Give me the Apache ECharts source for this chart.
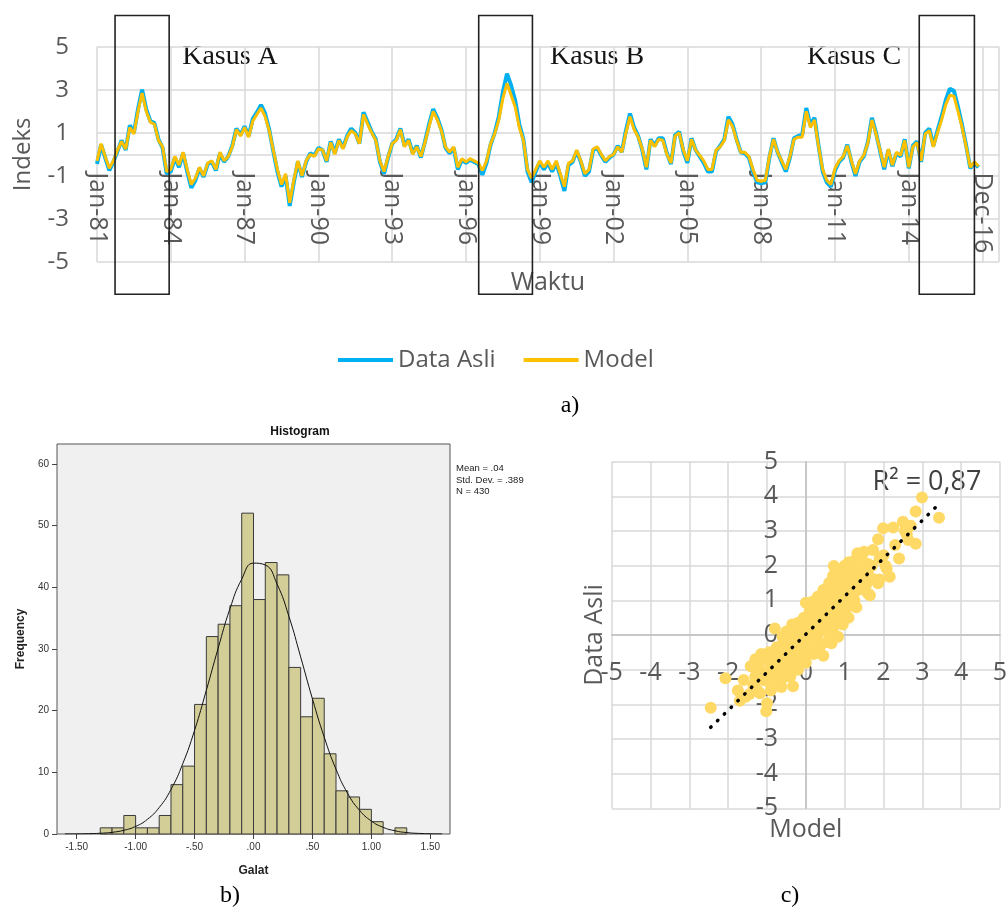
<!DOCTYPE html>
<html>
<head>
<meta charset="utf-8">
<script src="https://cdn.jsdelivr.net/npm/echarts@6/dist/echarts.min.js"></script>
<style>
html,body{margin:0;padding:0;background:#fff}
#chart{width:1008px;height:915px}
</style>
</head>
<body>
<div id="chart"></div>
<script>
// a) indeks bulanan Jan-81 s/d Dec-16, dibaca tiap 2 bulan
const stepBulan = 2;
const model = [
  -0.3, 0.5, -0.1, -0.65, -0.3, 0.2, 0.6, 0.25, 1.25, 0.95, 2.0, 2.85, 2.0, 1.5, 1.4, 0.65, 0.35, -0.8,
  -0.7, -0.1, -0.5, 0.1, -0.7, -1.4, -1.1, -0.6, -1.0, -0.4, -0.3, -0.7, 0.1, -0.3, -0.1, 0.35, 1.15, 0.85,
  1.25, 0.8, 1.55, 1.85, 2.15, 1.75, 1.1, 0.2, -0.7, -1.4, -0.9, -2.25, -1.2, -0.3, -1.0, -0.3, 0.0, -0.1,
  0.25, 0.2, -0.3, 0.55, 0.0, 0.65, 0.25, 0.8, 1.1, 0.95, 0.5, 1.85, 1.4, 1.0, 0.65, -0.3, -0.8, -0.1,
  0.5, 0.65, 1.15, 0.35, 0.65, 0.0, 0.35, -0.1, 0.55, 1.3, 2.0, 1.6, 1.1, 0.35, 0.1, 0.35, -0.6, -0.2,
  -0.35, -0.2, -0.3, -0.4, -0.75, -0.3, 0.5, 0.95, 1.6, 2.6, 3.3, 2.75, 2.2, 1.25, 0.65, -0.7, -1.1, -0.7,
  -0.3, -0.6, -0.3, -0.7, -0.3, -0.9, -1.5, -0.4, -0.3, 0.2, -0.3, -0.9, -0.7, 0.25, 0.35, 0.0, -0.3, -0.1,
  0.0, 0.35, 0.1, 1.0, 1.75, 1.15, 0.8, 0.25, -0.6, 0.65, 0.35, 0.7, 0.65, 0.0, -0.4, 0.85, 1.0, 0.2,
  -0.3, 0.7, 0.2, -0.05, -0.3, -0.7, -0.7, 0.2, 0.35, 0.65, 1.6, 1.3, 0.65, 0.1, 0.1, -0.1, -0.7, -1.2,
  -1.25, -1.2, -0.1, 0.7, 0.1, -0.3, -0.7, -0.1, 0.7, 0.8, 0.8, 2.0, 1.25, 1.6, 0.35, -0.7, -1.2, -1.4,
  -0.65, -0.3, -0.1, 0.4, -0.3, -0.9, -0.3, -0.05, 0.5, 1.6, 0.95, 0.2, -0.6, 0.25, -0.5, 0.1, -0.05, 0.65,
  -0.6, 0.35, 0.55, -0.3, 0.95, 1.1, 0.35, 1.0, 1.6, 2.3, 2.75, 2.7, 2.0, 1.25, 0.35, -0.6, -0.35, -0.55
];
const dataAsli = [
  -0.45, 0.45, -0.15, -0.75, -0.35, 0.15, 0.65, 0.2, 1.35, 1.0, 2.1, 3.0, 2.1, 1.55, 1.45, 0.7, 0.3, -0.9,
  -0.8, -0.15, -0.6, 0.05, -0.8, -1.55, -1.2, -0.65, -1.05, -0.45, -0.35, -0.75, 0.05, -0.35, -0.1, 0.4, 1.2, 0.9,
  1.3, 0.85, 1.65, 1.95, 2.3, 1.9, 1.15, 0.15, -0.8, -1.5, -1.0, -2.4, -1.3, -0.35, -1.05, -0.35, 0.05, -0.05,
  0.3, 0.2, -0.35, 0.6, 0.05, 0.7, 0.3, 0.85, 1.2, 1.0, 0.5, 1.95, 1.5, 1.05, 0.7, -0.35, -0.9, -0.15,
  0.5, 0.7, 1.2, 0.4, 0.7, 0.05, 0.4, -0.15, 0.6, 1.4, 2.1, 1.7, 1.15, 0.3, 0.05, 0.3, -0.7, -0.25,
  -0.4, -0.25, -0.35, -0.45, -0.95, -0.4, 0.45, 1.0, 1.75, 2.9, 3.75, 3.2, 2.5, 1.4, 0.7, -0.8, -1.3, -0.8,
  -0.35, -0.7, -0.4, -0.8, -0.4, -1.0, -1.7, -0.5, -0.35, 0.15, -0.35, -1.0, -0.8, 0.2, 0.3, -0.05, -0.35, -0.15,
  0.0, 0.4, 0.1, 1.1, 1.9, 1.25, 0.85, 0.2, -0.7, 0.7, 0.4, 0.75, 0.75, 0.05, -0.45, 0.9, 1.05, 0.15,
  -0.4, 0.75, 0.2, -0.1, -0.4, -0.8, -0.8, 0.15, 0.4, 0.7, 1.75, 1.4, 0.7, 0.1, 0.05, -0.15, -0.8, -1.3,
  -1.35, -1.3, -0.15, 0.75, 0.1, -0.35, -0.8, -0.15, 0.75, 0.85, 0.9, 2.15, 1.35, 1.7, 0.4, -0.8, -1.3, -1.5,
  -0.75, -0.35, -0.15, 0.45, -0.35, -1.0, -0.35, -0.1, 0.55, 1.7, 1.0, 0.15, -0.7, 0.2, -0.55, 0.05, -0.1, 0.7,
  -0.65, 0.4, 0.6, -0.35, 1.0, 1.2, 0.4, 1.1, 1.75, 2.5, 3.05, 2.95, 2.2, 1.35, 0.4, -0.65, -0.4, -0.6
];
const labelWaktu = ['Jan-81','Jan-84','Jan-87','Jan-90','Jan-93','Jan-96','Jan-99','Jan-02','Jan-05','Jan-08','Jan-11','Jan-14','Dec-16'];
// kotak kasus (bulan ke-)
const kasusNama = ['Kasus A', 'Kasus B', 'Kasus C'];
const kasusDari = [8.8, 186.2, 401.1];
const kasusSampai = [35.2, 212.4, 428];

// b) histogram galat
const galatBawah = [-1.3,-1.2,-1.1,-1.0,-0.9,-0.8,-0.7,-0.6,-0.5,-0.4,-0.3,-0.2,-0.1,0.0,0.1,0.2,0.3,0.4,0.5,0.6,0.7,0.8,0.9,1.0,1.1,1.2];
const frekuensi = [1,1,3,1,1,3,8,11,21,32,34,37,52,38,44,42,27,19,22,13,7,6,4,2,0,1];
const lebarBin = 0.1;
const kurvaX = [-1.6,-1.5,-1.4,-1.3,-1.2,-1.1,-1.0,-0.9,-0.8,-0.7,-0.6,-0.5,-0.4,-0.3,-0.2,-0.1,0.0,0.1,0.2,0.3,0.4,0.5,0.6,0.7,0.8,0.9,1.0,1.1,1.2,1.3,1.4,1.5,1.6];
const kurvaY = [0.01,0.02,0.05,0.12,0.27,0.6,1.23,2.38,4.29,7.22,11.4,16.8,23.3,30.1,36.5,41.3,43.9,43.6,40.5,35.3,28.7,21.9,15.7,10.5,6.54,3.83,2.1,1.08,0.52,0.23,0.1,0.04,0.01];

// c) sebaran model vs data asli
const sebaranModel = [
  -2.45,-2.07,-1.75,-1.55,-1.42,-1.35,-1.3,-1.25,-1.2,-1.18,-1.1,-1.05,-1.02,-1.0,-1.0,-0.95,-0.92,-0.9,-0.85,-0.82,
  -0.8,-0.75,-0.72,-0.7,-0.68,-0.65,-0.63,-0.6,-0.58,-0.55,-0.52,-0.5,-0.48,-0.45,-0.42,-0.4,-0.38,-0.35,-0.33,-0.3,
  -0.28,-0.25,-0.22,-0.2,-0.18,-0.15,-0.12,-0.1,-0.08,-0.05,-0.02,0.0,0.0,0.03,0.05,0.08,0.1,0.12,0.15,0.18,
  0.2,0.22,0.25,0.28,0.3,0.32,0.35,0.38,0.4,0.42,0.45,0.45,0.48,0.5,0.52,0.55,0.58,0.6,0.62,0.65,
  0.66,0.68,0.7,0.72,0.72,0.75,0.78,0.8,0.83,0.83,0.85,0.88,0.9,0.92,0.95,0.98,1.0,1.02,1.05,1.08,
  1.1,1.12,1.15,1.18,1.2,1.22,1.25,1.28,1.3,1.33,1.35,1.4,1.43,1.45,1.5,1.55,1.6,1.65,1.7,1.73,
  1.78,1.86,1.86,1.9,1.99,2.05,2.08,2.16,2.25,2.4,2.5,2.55,2.64,2.7,2.83,2.83,2.99,3.43,
  -1.15,-0.8,-1.3,-0.6,-0.5,-0.35,-0.2,-0.05,0.1,0.15,0.3,0.45,0.6,0.7,0.9,1.0,1.1,1.3,1.5,1.6,
  -0.9,-0.6,-0.4,-0.2,0.0,0.2,0.35,0.55,0.7,0.95,1.1,1.3,1.6,1.9,2.0,2.3,2.6,-1.6,-1.45,-1.7
];
const sebaranAsli = [
  -2.1,-1.25,-1.6,-1.78,-0.9,-1.45,-1.2,-1.6,-0.95,-1.68,-1.3,-0.7,-2.2,-1.97,-1.1,-0.5,-1.4,-0.85,-1.2,-0.6,
  -0.95,-0.35,-1.3,-0.75,-1.05,-0.45,-1.5,-0.9,-0.2,-0.65,-1.1,-0.4,-0.8,-0.1,-0.55,-0.95,-0.3,-0.7,-1.48,-0.15,
  -0.5,-0.85,0.05,-0.35,-0.6,-0.1,-0.45,0.2,-0.25,-0.7,0.05,0.93,-0.3,0.3,-0.05,-0.5,0.15,0.45,-0.2,0.1,
  0.5,-0.1,0.25,0.7,0.0,0.4,0.85,0.15,0.55,-0.25,-0.6,0.3,0.75,1.05,0.45,0.1,0.65,1.2,0.35,0.85,
  -0.24,0.55,1.0,1.99,0.25,0.75,1.3,0.5,-0.05,1.0,1.5,0.7,1.15,0.4,1.6,0.95,1.3,0.65,1.59,1.1,
  1.8,0.85,1.4,1.2,1.65,1.92,1.0,1.5,1.75,2.36,1.3,1.6,1.35,1.9,2.1,1.45,1.75,1.15,2.0,2.45,
  1.6,1.49,2.76,2.2,3.08,2.0,1.92,1.68,3.1,2.21,3.27,3.0,2.74,3.15,3.56,2.63,3.97,3.38,
  -0.55,0.19,-0.7,-0.05,0.1,0.3,0.35,0.5,0.7,0.95,1.1,1.3,1.5,1.7,1.85,2.0,2.1,2.2,2.4,2.05,
  -1.6,-1.25,-1.2,-1.0,-0.8,-0.55,-0.35,-0.2,0.05,0.3,0.5,0.8,1.2,1.6,2.3,2.6,2.9,-1.3,-1.7,-1.9
];

let myChart = echarts.init(document.getElementById('chart'));

const excelFont = 'Open Sans';
const abu = '#595959';

// garis tren (kuadrat terkecil dari sebaran)
let n = sebaranModel.length, sx = 0, sy = 0, sxx = 0, sxy = 0;
for (let i = 0; i < n; i++) {
  sx += sebaranModel[i]; sy += sebaranAsli[i];
  sxx += sebaranModel[i] * sebaranModel[i]; sxy += sebaranModel[i] * sebaranAsli[i];
}
let slope = (n * sxy - sx * sy) / (n * sxx - sx * sx);
let intercept = (sy - slope * sx) / n;
let xMin = Math.min(...sebaranModel), xMax = Math.max(...sebaranModel);

let option = {
  animation: false,
  backgroundColor: '#fff',
  textStyle: { fontFamily: excelFont },
  legend: {
    data: ['Data Asli', 'Model'],
    left: 333, top: 343,
    icon: 'rect', itemWidth: 55, itemHeight: 4, itemGap: 28,
    textStyle: { fontSize: 24, color: abu, fontFamily: excelFont }
  },
  grid: [
    { left: 97, top: 46.7, width: 902, height: 215.3, outerBoundsMode: 'none' },
    // histogram: 0..60 dipetakan ke 834..463.8 px, bingkai SPSS digambar terpisah
    { left: 57, top: 463.8, width: 393, height: 370.2, outerBoundsMode: 'none' },
    { left: 611.7, top: 461.7, width: 388.3, height: 346.6, outerBoundsMode: 'none' }
  ],
  xAxis: [
    {
      // sumbu di y = 0 (154 px), digeser naik dari dasar grid
      gridIndex: 0, type: 'value', min: 0, max: 440, interval: 36, offset: -107.6,
      name: 'Waktu', nameLocation: 'middle', nameGap: 116,
      nameTextStyle: { fontSize: 25, color: abu },
      axisLine: { onZero: false, lineStyle: { color: '#d9d9d9', width: 1.5 } },
      axisTick: { show: false },
      axisLabel: {
        rotate: -90, margin: 18, fontSize: 25, color: abu, showMaxLabel: false,
        formatter: v => (v % 36 === 0 && v / 36 < labelWaktu.length) ? labelWaktu[v / 36] : ''
      },
      splitLine: { show: true, lineStyle: { color: '#d9d9d9', width: 1.5 } }
    },
    {
      gridIndex: 1, type: 'value', min: -1.667, max: 1.667,
      name: 'Galat', nameLocation: 'middle', nameGap: 31,
      nameTextStyle: { fontSize: 12, fontWeight: 'bold', color: '#222', fontFamily: 'Liberation Sans' },
      axisLine: { show: false, onZero: false },
      axisTick: { show: true, length: 5, lineStyle: { color: '#444' }, customValues: [-1.5, -1, -0.5, 0, 0.5, 1, 1.5] },
      axisLabel: {
        margin: 8, fontSize: 10, color: '#333', fontFamily: 'Liberation Sans',
        customValues: [-1.5, -1, -0.5, 0, 0.5, 1, 1.5],
        formatter: v => v.toFixed(2).replace(/^(-?)0\./, '$1.')
      },
      splitLine: { show: false }
    },
    {
      gridIndex: 2, type: 'value', min: -5, max: 5, interval: 1, offset: -173.3,
      name: 'Model', nameLocation: 'middle', nameGap: 182,
      nameTextStyle: { fontSize: 25, color: abu },
      axisLine: { onZero: false, lineStyle: { color: '#bfbfbf', width: 1.5 } },
      axisTick: { show: false },
      axisLabel: { margin: 25, fontSize: 25, color: abu },
      splitLine: { show: true, lineStyle: { color: '#d9d9d9', width: 1.5 } }
    }
  ],
  yAxis: [
    {
      gridIndex: 0, type: 'value', min: -5, max: 5, interval: 2,
      name: 'Indeks', nameLocation: 'middle', nameGap: 62,
      nameTextStyle: { fontSize: 24, color: abu },
      axisLine: { show: false, onZero: false }, axisTick: { show: false },
      axisLabel: { margin: 28, fontSize: 24, color: abu },
      splitLine: { show: true, lineStyle: { color: '#d9d9d9', width: 1.5 } }
    },
    {
      gridIndex: 1, type: 'value', min: 0, max: 60, interval: 10,
      name: 'Frequency', nameLocation: 'middle', nameGap: 30,
      nameTextStyle: { fontSize: 12, fontWeight: 'bold', color: '#222', fontFamily: 'Liberation Sans', padding: [0, 0, 0, 20] },
      axisLine: { show: false, onZero: false },
      axisTick: { show: true, length: 5, lineStyle: { color: '#444' } },
      axisLabel: { margin: 8, fontSize: 10, color: '#333', fontFamily: 'Liberation Sans' },
      splitLine: { show: false }
    },
    {
      gridIndex: 2, type: 'value', min: -5, max: 5, interval: 1, offset: -194.3,
      name: 'Data Asli', nameLocation: 'middle', nameGap: 199,
      nameTextStyle: { fontSize: 25, color: abu },
      axisLine: { onZero: false, lineStyle: { color: '#bfbfbf', width: 1.5 } },
      axisTick: { show: false },
      axisLabel: { margin: 28, fontSize: 25, color: abu },
      splitLine: { show: true, lineStyle: { color: '#d9d9d9', width: 1.5 } }
    }
  ],
  series: [
    {
      name: 'Data Asli', type: 'line', xAxisIndex: 0, yAxisIndex: 0,
      showSymbol: false, color: '#00b0f0',
      lineStyle: { width: 4, color: '#00b0f0' },
      data: dataAsli.map((v, i) => [i * stepBulan, v])
    },
    {
      name: 'Model', type: 'line', xAxisIndex: 0, yAxisIndex: 0,
      showSymbol: false, color: '#ffc000',
      lineStyle: { width: 3, color: '#ffc000' },
      data: model.map((v, i) => [i * stepBulan, v])
    },
    {
      // kotak kasus A, B, C
      type: 'custom', xAxisIndex: 0, yAxisIndex: 0, clip: false, silent: true, z: 10,
      encode: { x: [0, 1], y: [2, 3] },
      data: kasusDari.map((d, i) => [d, kasusSampai[i], 6.45, -6.5]),
      renderItem: (params, api) => {
        let p0 = api.coord([api.value(0), api.value(2)]);
        let p1 = api.coord([api.value(1), api.value(3)]);
        return {
          type: 'rect',
          shape: { x: p0[0], y: p0[1], width: p1[0] - p0[0], height: p1[1] - p0[1] },
          style: { fill: 'none', stroke: '#222', lineWidth: 1.6 }
        };
      }
    },
    {
      type: 'custom', xAxisIndex: 1, yAxisIndex: 1, silent: true,
      encode: { x: [0, 1], y: 2 },
      data: galatBawah.map((b, i) => [b, b + lebarBin, frekuensi[i]]),
      renderItem: (params, api) => {
        if (api.value(2) <= 0) return null;
        let p0 = api.coord([api.value(0), api.value(2)]);
        let p1 = api.coord([api.value(1), 0]);
        return {
          type: 'rect',
          shape: { x: p0[0], y: p0[1], width: p1[0] - p0[0], height: p1[1] - p0[1] },
          style: { fill: '#d3ce97', stroke: '#3a3a3a', lineWidth: 1 }
        };
      }
    },
    {
      type: 'line', xAxisIndex: 1, yAxisIndex: 1, smooth: true, showSymbol: false, silent: true, z: 5,
      lineStyle: { color: '#111', width: 1 },
      data: kurvaX.map((x, i) => [x, kurvaY[i]])
    },
    {
      type: 'scatter', xAxisIndex: 2, yAxisIndex: 2, symbolSize: 12, silent: true,
      itemStyle: { color: '#ffd966', opacity: 1 },
      data: sebaranModel.map((x, i) => [x, sebaranAsli[i]])
    },
    {
      type: 'line', xAxisIndex: 2, yAxisIndex: 2, showSymbol: false, silent: true, z: 6,
      lineStyle: { color: '#000', width: 3.5, type: [0.5, 9], cap: 'round' },
      data: [[xMin, intercept + slope * xMin], [xMax, intercept + slope * xMax]]
    }
  ],
  graphic: [
    // bingkai area plot histogram (SPSS)
    { type: 'rect', z: -10, silent: true, shape: { x: 57, y: 444, width: 393, height: 390 }, style: { fill: '#f0f0f0', stroke: '#555', lineWidth: 1 } },
    { type: 'text', x: 230, y: 57, style: { text: 'Kasus A', font: '28px "Liberation Serif"', fill: '#151515', align: 'center', verticalAlign: 'middle' } },
    { type: 'text', x: 597, y: 57, style: { text: 'Kasus B', font: '28px "Liberation Serif"', fill: '#151515', align: 'center', verticalAlign: 'middle' } },
    { type: 'text', x: 854, y: 57, style: { text: 'Kasus C', font: '28px "Liberation Serif"', fill: '#151515', align: 'center', verticalAlign: 'middle' } },
    { type: 'text', x: 570, y: 406, style: { text: 'a)', font: '24px "Liberation Serif"', fill: '#000', align: 'center', verticalAlign: 'middle' } },
    { type: 'text', x: 230, y: 896, style: { text: 'b)', font: '24px "Liberation Serif"', fill: '#000', align: 'center', verticalAlign: 'middle' } },
    { type: 'text', x: 790, y: 896, style: { text: 'c)', font: '24px "Liberation Serif"', fill: '#000', align: 'center', verticalAlign: 'middle' } },
    { type: 'text', x: 300, y: 432, style: { text: 'Histogram', font: 'bold 12px "Liberation Sans"', fill: '#111', align: 'center', verticalAlign: 'middle' } },
    { type: 'text', x: 456, y: 463, style: { text: 'Mean = .04\nStd. Dev. = .389\nN = 430', font: '9.5px "Liberation Sans"', lineHeight: 11.5, fill: '#222' } },
    { type: 'text', x: 927, y: 482, style: { text: 'R² = 0,87', font: '27px "Open Sans"', fill: '#404040', align: 'center', verticalAlign: 'middle' } }
  ]
};
myChart.setOption(option);
</script>
</body>
</html>
